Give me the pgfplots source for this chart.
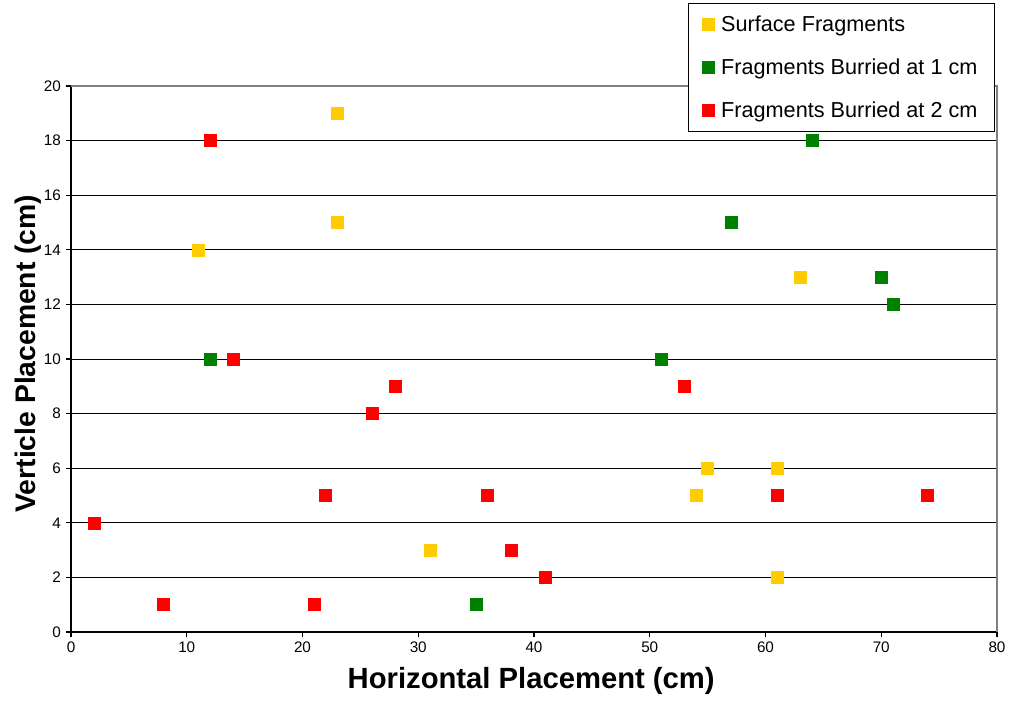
\documentclass[border=0pt]{standalone}
\usepackage{fontspec}
\setmainfont{Liberation Sans}
\usepackage{pgfplots}
\pgfplotsset{compat=1.18}
\definecolor{cy}{HTML}{FFCC00}
\definecolor{cg}{HTML}{008000}
\definecolor{cr}{HTML}{FF0000}
\begin{document}
\begin{tikzpicture}[x=0.75bp,y=0.75bp]
\begin{axis}[
  at={(0,0)}, anchor=south west,
  scale only axis, width=694.5bp, height=409.5bp,
  xmin=0, xmax=80, ymin=0, ymax=20,
  xtick={0,10,...,80}, ytick={0,2,...,20},
  axis x line*=bottom, axis y line*=left,
  axis line style={black, line width=0.9pt, -},
  tick align=outside, major tick length=4bp,
  tick style={black, line width=0.8pt},
  ymajorgrids, grid style={black, line width=0.6pt},
  /pgf/number format/assume math mode=true,
  ticklabel style={font=\fontsize{11.5}{13}\selectfont},
  xlabel={Horizontal Placement (cm)},
  ylabel={Verticle Placement (cm)},
  xlabel style={font=\bfseries\fontsize{22}{26}\selectfont, at={(axis description cs:0.497,-0.089)}, anchor=center},
  ylabel style={font=\bfseries\fontsize{21.3}{25}\selectfont, at={(axis description cs:-0.0464,0.51)}, anchor=center},
  clip=false,
  legend style={at={(axis description cs:0.998,1.152)}, anchor=north east,
    draw=black, line width=0.6pt, font=\fontsize{16.3}{19}\selectfont,
    row sep=15.2pt, inner xsep=11pt, inner ysep=7pt,
    /tikz/every odd column/.append style={column sep=3bp},
    cells={anchor=west}},
  legend cell align=left,
]
\addplot[only marks, mark=square*, mark size=4.5bp, color=cy, mark options={draw=cy, fill=cy}] coordinates {
 (23,19) (23,15) (11,14) (63,13) (55,6) (61,6) (54,5) (31,3) (61,2)};
\addlegendentry{Surface Fragments}
\addplot[only marks, mark=square*, mark size=4.5bp, color=cg, mark options={draw=cg, fill=cg}] coordinates {
 (64,18) (57,15) (70,13) (71,12) (12,10) (51,10) (35,1)};
\addlegendentry{Fragments Burried at 1 cm}
\addplot[only marks, mark=square*, mark size=4.5bp, color=cr, mark options={draw=cr, fill=cr}] coordinates {
 (12,18) (14,10) (28,9) (26,8) (22,5) (36,5) (2,4) (38,3) (41,2) (8,1) (21,1) (53,9) (61,5) (74,5)};
\addlegendentry{Fragments Burried at 2 cm}
\draw[gray, line width=0.9pt] (rel axis cs:0,1) -- (rel axis cs:1,1) -- (rel axis cs:1,0);
\end{axis}
\pgfresetboundingbox
\useasboundingbox (-71,-74) rectangle (939,632);
\end{tikzpicture}
\end{document}
